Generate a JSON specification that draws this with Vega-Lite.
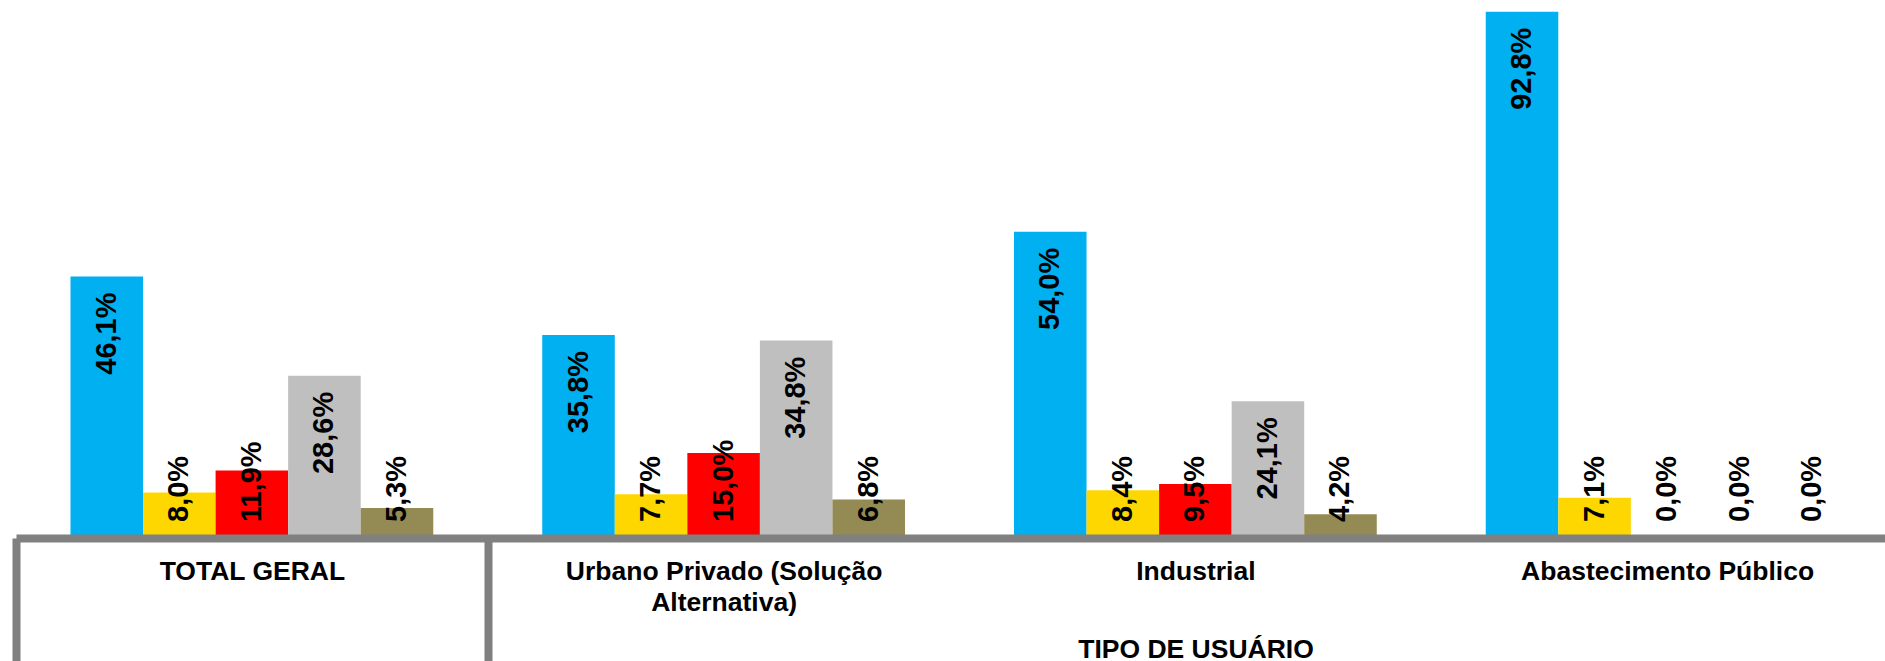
{
  "$schema": "https://vega.github.io/schema/vega-lite/v6.json",
  "width": 1869,
  "height": 538,
  "autosize": {"type": "none"},
  "padding": {"left": 16, "top": 0, "right": 0, "bottom": 123},
  "background": "white",
  "config": {
    "view": {"stroke": null},
    "locale": {"number": {"decimal": ",", "thousands": ".", "grouping": [3], "currency": ["R$", ""]}}
  },
  "data": {
    "values": [
      {"tipo": "TOTAL GERAL", "serie": "Série 1", "v": 0.461},
      {"tipo": "TOTAL GERAL", "serie": "Série 2", "v": 0.080},
      {"tipo": "TOTAL GERAL", "serie": "Série 3", "v": 0.119},
      {"tipo": "TOTAL GERAL", "serie": "Série 4", "v": 0.286},
      {"tipo": "TOTAL GERAL", "serie": "Série 5", "v": 0.053},
      {"tipo": "Urbano Privado (Solução Alternativa)", "serie": "Série 1", "v": 0.358},
      {"tipo": "Urbano Privado (Solução Alternativa)", "serie": "Série 2", "v": 0.077},
      {"tipo": "Urbano Privado (Solução Alternativa)", "serie": "Série 3", "v": 0.150},
      {"tipo": "Urbano Privado (Solução Alternativa)", "serie": "Série 4", "v": 0.348},
      {"tipo": "Urbano Privado (Solução Alternativa)", "serie": "Série 5", "v": 0.068},
      {"tipo": "Industrial", "serie": "Série 1", "v": 0.540},
      {"tipo": "Industrial", "serie": "Série 2", "v": 0.084},
      {"tipo": "Industrial", "serie": "Série 3", "v": 0.095},
      {"tipo": "Industrial", "serie": "Série 4", "v": 0.241},
      {"tipo": "Industrial", "serie": "Série 5", "v": 0.042},
      {"tipo": "Abastecimento Público", "serie": "Série 1", "v": 0.928},
      {"tipo": "Abastecimento Público", "serie": "Série 2", "v": 0.071},
      {"tipo": "Abastecimento Público", "serie": "Série 3", "v": 0.0},
      {"tipo": "Abastecimento Público", "serie": "Série 4", "v": 0.0},
      {"tipo": "Abastecimento Público", "serie": "Série 5", "v": 0.0}
    ]
  },
  "encoding": {
    "x": {
      "field": "tipo",
      "type": "nominal",
      "sort": ["TOTAL GERAL", "Urbano Privado (Solução Alternativa)", "Industrial", "Abastecimento Público"],
      "scale": {"range": [0, 1887], "paddingInner": 0.231, "paddingOuter": 0.1155},
      "axis": {
        "title": "TIPO DE USUÁRIO",
        "titleFont": "Liberation Sans",
        "titleFontSize": 26.5,
        "titleFontWeight": "bold",
        "titleColor": "#000000",
        "titleX": 1179.5,
        "titleY": 119,
        "titleBaseline": "alphabetic",
        "titleAlign": "center",
        "titleAnchor": null,
        "domainColor": "#808080",
        "domainWidth": 8,
        "domainCap": "butt",
        "ticks": true,
        "tickSize": 130,
        "tickWidth": 8,
        "tickCap": "butt",
        "tickColor": {"condition": {"test": "datum.value === 'TOTAL GERAL' || datum.value === 'Urbano Privado (Solução Alternativa)'", "value": "#808080"}, "value": "rgba(0,0,0,0)"},
        "bandPosition": 0,
        "tickOffset": -54.5,
        "labelOffset": 54.5,
        "labelFont": "Liberation Sans",
        "labelFontSize": 26.5,
        "labelFontWeight": "bold",
        "labelColor": "#000000",
        "labelAngle": 0,
        "labelPadding": -110,
        "labelLimit": 1000,
        "labelLineHeight": 31,
        "labelExpr": "datum.value === 'Urbano Privado (Solução Alternativa)' ? ['Urbano Privado (Solução', 'Alternativa)'] : datum.value",
        "zindex": 1
      }
    },
    "xOffset": {
      "field": "serie",
      "type": "nominal",
      "sort": ["Série 1", "Série 2", "Série 3", "Série 4", "Série 5"],
      "scale": {"paddingInner": 0, "paddingOuter": 0}
    }
  },
  "layer": [
    {
      "mark": {"type": "bar"},
      "encoding": {
        "y": {"field": "v", "type": "quantitative", "scale": {"domain": [0, 0.9485], "nice": false, "zero": true}, "axis": null},
        "color": {
          "field": "serie",
          "type": "nominal",
          "scale": {"domain": ["Série 1", "Série 2", "Série 3", "Série 4", "Série 5"], "range": ["#00B0F0", "#FFD700", "#FF0000", "#BFBFBF", "#948A54"]},
          "legend": null
        }
      }
    },
    {
      "transform": [{"filter": "datum.v >= 0.2"}],
      "mark": {"type": "text", "angle": 270, "align": "right", "baseline": "middle", "dx": -16, "font": "Liberation Sans", "fontSize": 29, "fontWeight": "bold", "color": "#000000"},
      "encoding": {
        "y": {"field": "v", "type": "quantitative"},
        "text": {"field": "v", "type": "quantitative", "format": ".1%"}
      }
    },
    {
      "transform": [{"filter": "datum.v < 0.2"}],
      "mark": {"type": "text", "angle": 270, "align": "left", "baseline": "middle", "dx": 16, "font": "Liberation Sans", "fontSize": 29, "fontWeight": "bold", "color": "#000000"},
      "encoding": {
        "y": {"datum": 0, "type": "quantitative"},
        "text": {"field": "v", "type": "quantitative", "format": ".1%"}
      }
    }
  ]
}
